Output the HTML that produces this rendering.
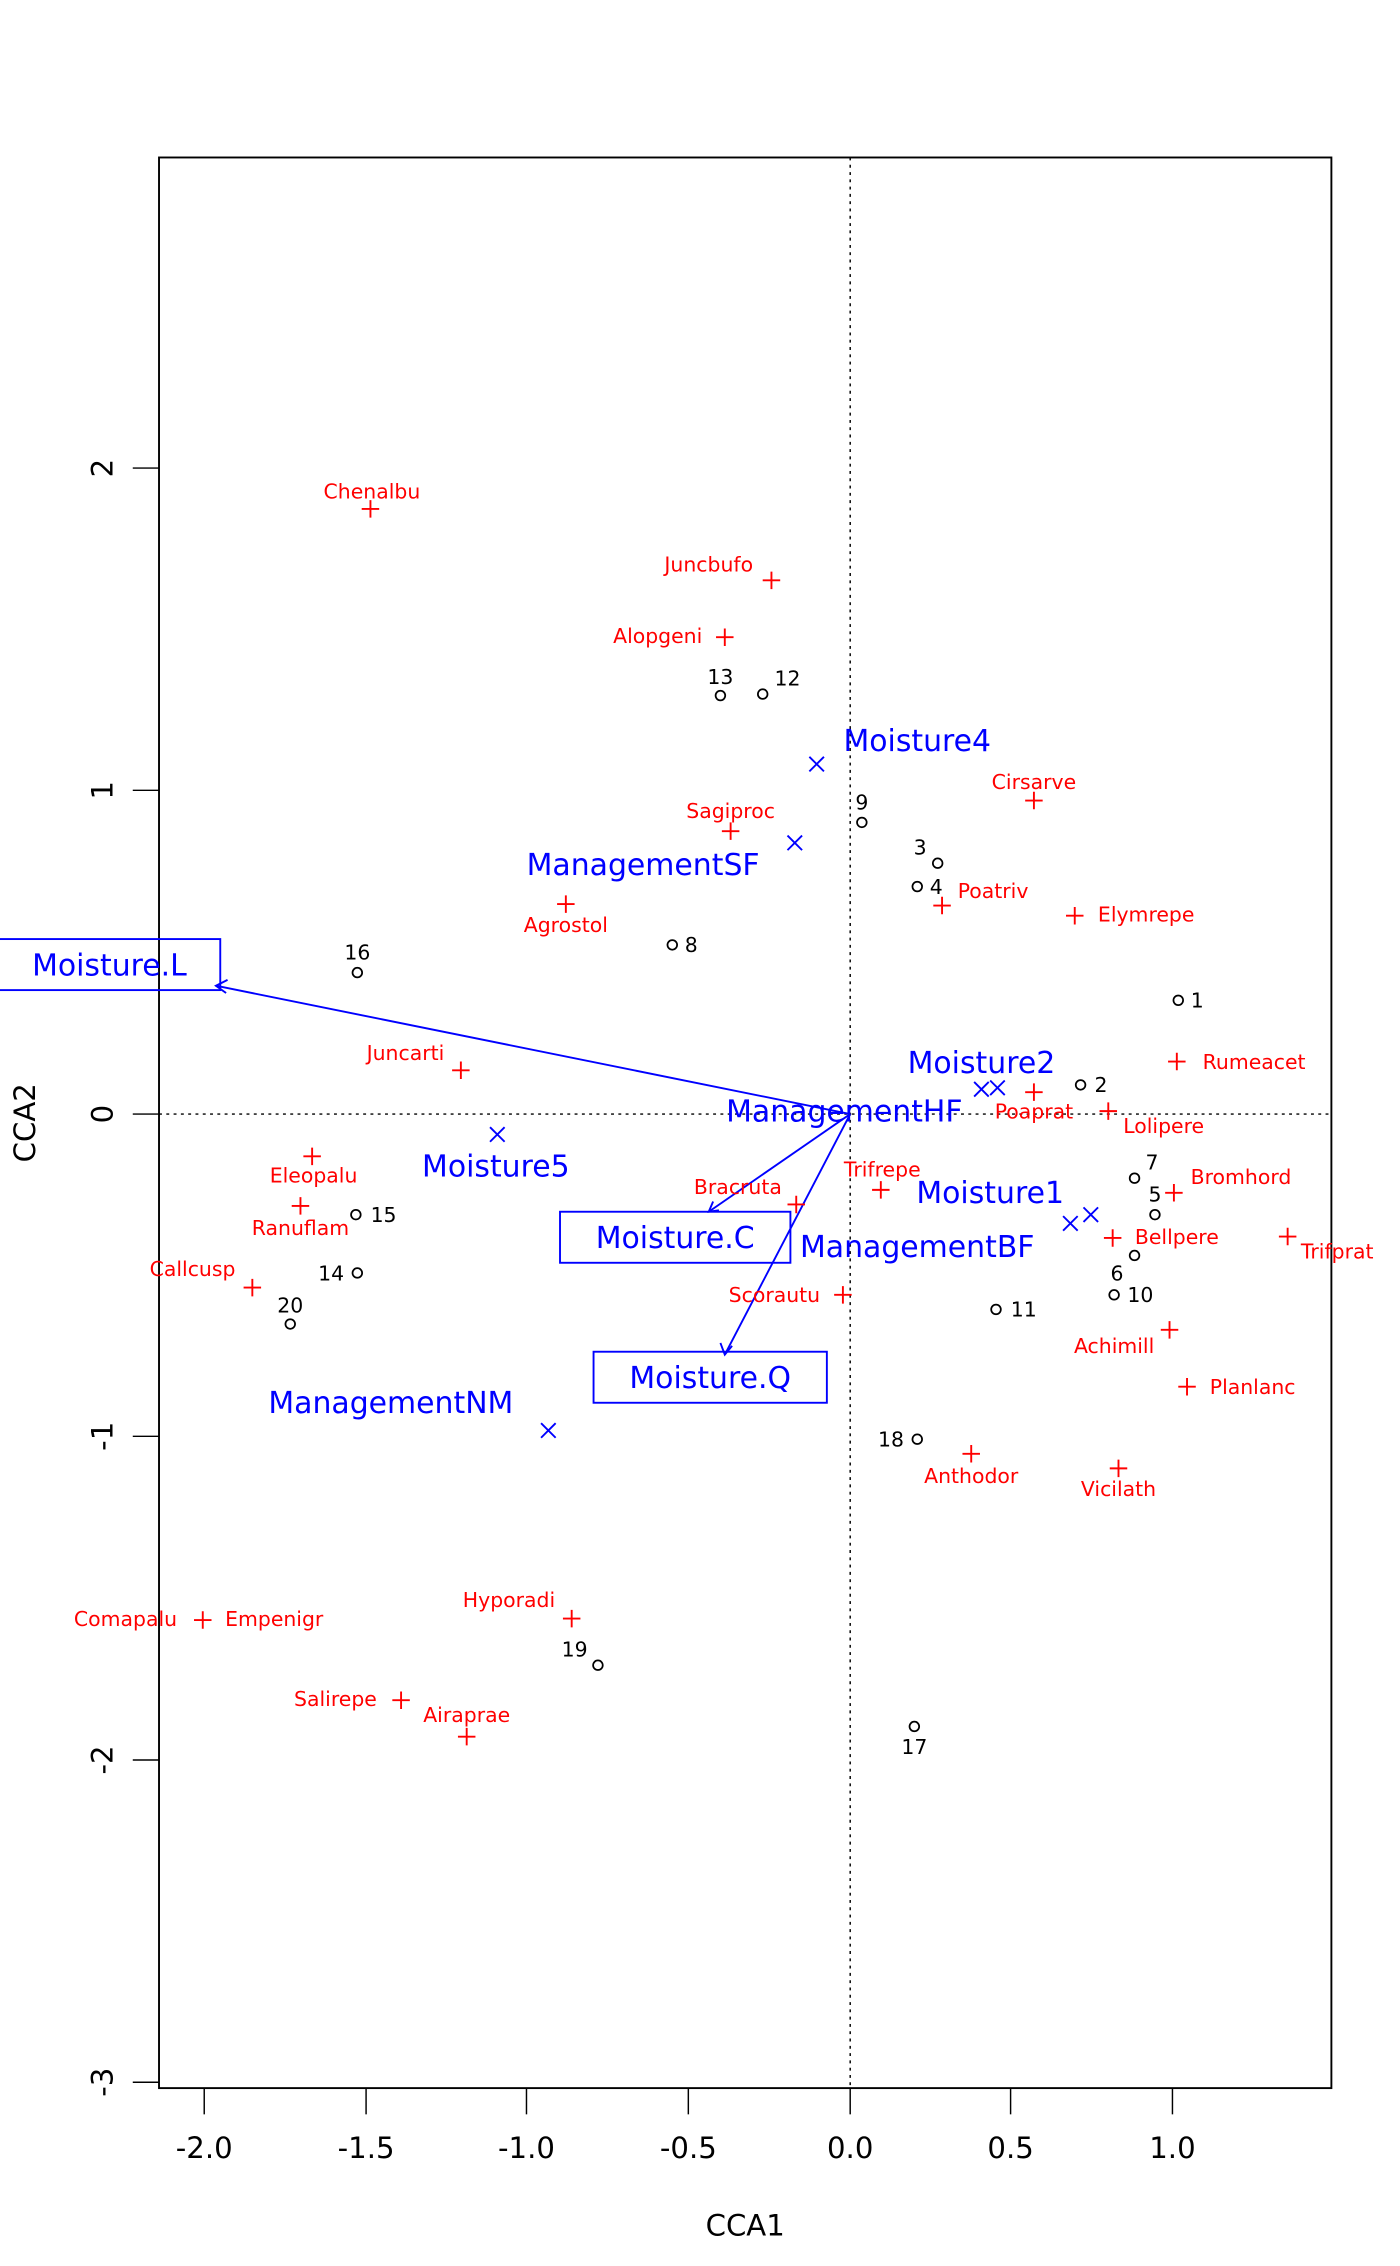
<!DOCTYPE html>
<html><head><meta charset="utf-8"><style>
html,body{margin:0;padding:0;background:#fff;}
svg{display:block;}
text{font-family:"DejaVu Sans","Liberation Sans",sans-serif;}
.r{fill:#f00;font-size:14px;text-anchor:middle;}
.k{fill:#000;font-size:14px;text-anchor:middle;}
.b{fill:#00f;font-size:20.5px;text-anchor:middle;}
.t{fill:#000;font-size:20px;text-anchor:middle;}
</style></head><body>
<svg width="1400" height="2266" viewBox="0 0 960 1554" xmlns="http://www.w3.org/2000/svg">
<rect width="960" height="1554" fill="#fff"/>
<!-- dotted axes -->
<line x1="109" y1="764" x2="913" y2="764" stroke="#000" stroke-width="1" stroke-dasharray="2,3"/>
<line x1="583" y1="108" x2="583" y2="1432" stroke="#000" stroke-width="1" stroke-dasharray="2,3"/>
<rect x="109" y="108" width="804" height="1324" fill="none" stroke="#000" stroke-width="1.3"/>
<!-- x ticks -->
<g stroke="#000" stroke-width="1">
<line x1="140" y1="1432" x2="140" y2="1450"/><line x1="251" y1="1432" x2="251" y2="1450"/>
<line x1="361" y1="1432" x2="361" y2="1450"/><line x1="472" y1="1432" x2="472" y2="1450"/>
<line x1="583" y1="1432" x2="583" y2="1450"/><line x1="693" y1="1432" x2="693" y2="1450"/>
<line x1="804" y1="1432" x2="804" y2="1450"/>
<line x1="91" y1="321" x2="109" y2="321"/><line x1="91" y1="542" x2="109" y2="542"/>
<line x1="91" y1="764" x2="109" y2="764"/><line x1="91" y1="985" x2="109" y2="985"/>
<line x1="91" y1="1207" x2="109" y2="1207"/><line x1="91" y1="1428" x2="109" y2="1428"/>
</g>
<g class="t">
<text x="140" y="1480">-2.0</text><text x="251" y="1480">-1.5</text><text x="361" y="1480">-1.0</text>
<text x="472" y="1480">-0.5</text><text x="583" y="1480">0.0</text><text x="693" y="1480">0.5</text>
<text x="804" y="1480">1.0</text>
<text x="511" y="1533">CCA1</text>
<text transform="translate(77,321) rotate(-90)">2</text>
<text transform="translate(77,542) rotate(-90)">1</text>
<text transform="translate(77,764) rotate(-90)">0</text>
<text transform="translate(77,985) rotate(-90)">-1</text>
<text transform="translate(77,1207) rotate(-90)">-2</text>
<text transform="translate(77,1428) rotate(-90)">-3</text>
<text transform="translate(24,770) rotate(-90)">CCA2</text>
</g>
<!-- arrows -->
<g stroke="#00f" stroke-width="1.3" fill="none">
<line x1="583" y1="764" x2="148" y2="676"/>
<polyline points="156,672 148,676 155,681"/>
<line x1="583" y1="764" x2="486" y2="831"/>
<polyline points="489,824 486,831 493,830"/>
<line x1="583" y1="764" x2="497" y2="929"/>
<polyline points="494,921 497,929 502,923"/>
<rect x="-5" y="644" width="156" height="35"/>
<rect x="384" y="831" width="158" height="35"/>
<rect x="407" y="927" width="160" height="35"/>
</g>
<g class="b">
<text x="75" y="669">Moisture.L</text>
<text x="463" y="856">Moisture.C</text>
<text x="487" y="952">Moisture.Q</text>
<text x="629" y="515">Moisture4</text>
<text x="441" y="600">ManagementSF</text>
<text x="340" y="807">Moisture5</text>
<text x="268" y="969">ManagementNM</text>
<text x="673" y="736">Moisture2</text>
<text x="579" y="769">ManagementHF</text>
<text x="679" y="825">Moisture1</text>
<text x="629" y="862">ManagementBF</text>
</g>
<!-- blue X -->
<g stroke="#00f" stroke-width="1.3">
<path d="M555,519l10,10M565,519l-10,10"/>
<path d="M540,573l10,10M550,573l-10,10"/>
<path d="M336,773l10,10M346,773l-10,10"/>
<path d="M371,976l10,10M381,976l-10,10"/>
<path d="M668,742l10,10M678,742l-10,10"/>
<path d="M679,741l10,10M689,741l-10,10"/>
<path d="M729,834l10,10M739,834l-10,10"/>
<path d="M743,828l10,10M753,828l-10,10"/>
</g>
<!-- red plus -->
<g stroke="#f00" stroke-width="1.3" fill="none" id="pl">
<path d="M248,349h12M254,343v12"/>
<path d="M523,398h12M529,392v12"/>
<path d="M491,437h12M497,431v12"/>
<path d="M495,570h12M501,564v12"/>
<path d="M703,549h12M709,543v12"/>
<path d="M382,620h12M388,614v12"/>
<path d="M640,621h12M646,615v12"/>
<path d="M731,628h12M737,622v12"/>
<path d="M801,728h12M807,722v12"/>
<path d="M310,734h12M316,728v12"/>
<path d="M703,749h12M709,743v12"/>
<path d="M754,762h12M760,756v12"/>
<path d="M208,793h12M214,787v12"/>
<path d="M799,818h12M805,812v12"/>
<path d="M598,816h12M604,810v12"/>
<path d="M540,826h12M546,820v12"/>
<path d="M200,827h12M206,821v12"/>
<path d="M757,849h12M763,843v12"/>
<path d="M877,848h12M883,842v12"/>
<path d="M167,883h12M173,877v12"/>
<path d="M572,888h12M578,882v12"/>
<path d="M796,912h12M802,906v12"/>
<path d="M808,951h12M814,945v12"/>
<path d="M660,997h12M666,991v12"/>
<path d="M761,1007h12M767,1001v12"/>
<path d="M386,1110h12M392,1104v12"/>
<path d="M133,1111h12M139,1105v12"/>
<path d="M269,1166h12M275,1160v12"/>
<path d="M314,1191h12M320,1185v12"/>
</g>
<g class="r">
<text x="255" y="342">Chenalbu</text>
<text x="486" y="392">Juncbufo</text>
<text x="451" y="441">Alopgeni</text>
<text x="501" y="561">Sagiproc</text>
<text x="709" y="541">Cirsarve</text>
<text x="388" y="639">Agrostol</text>
<text x="681" y="616">Poatriv</text>
<text x="786" y="632">Elymrepe</text>
<text x="860" y="733">Rumeacet</text>
<text x="278" y="727">Juncarti</text>
<text x="709" y="767">Poaprat</text>
<text x="798" y="777">Lolipere</text>
<text x="215" y="811">Eleopalu</text>
<text x="851" y="812">Bromhord</text>
<text x="605" y="807">Trifrepe</text>
<text x="506" y="819">Bracruta</text>
<text x="206" y="847">Ranuflam</text>
<text x="807" y="853">Bellpere</text>
<text x="917" y="863">Trifprat</text>
<text x="132" y="875">Callcusp</text>
<text x="531" y="893">Scorautu</text>
<text x="764" y="928">Achimill</text>
<text x="859" y="956">Planlanc</text>
<text x="666" y="1017">Anthodor</text>
<text x="767" y="1026">Vicilath</text>
<text x="349" y="1102">Hyporadi</text>
<text x="86" y="1115">Comapalu</text>
<text x="188" y="1115">Empenigr</text>
<text x="230" y="1170">Salirepe</text>
<text x="320" y="1181">Airaprae</text>
</g>
<!-- sites -->
<g stroke="#000" stroke-width="1.2" fill="none">
<circle cx="808" cy="686" r="3.3"/><circle cx="741" cy="744" r="3.3"/>
<circle cx="643" cy="592" r="3.3"/><circle cx="629" cy="608" r="3.3"/>
<circle cx="792" cy="833" r="3.3"/><circle cx="778" cy="861" r="3.3"/>
<circle cx="778" cy="808" r="3.3"/><circle cx="461" cy="648" r="3.3"/>
<circle cx="591" cy="564" r="3.3"/><circle cx="764" cy="888" r="3.3"/>
<circle cx="683" cy="898" r="3.3"/><circle cx="523" cy="476" r="3.3"/>
<circle cx="494" cy="477" r="3.3"/><circle cx="245" cy="873" r="3.3"/>
<circle cx="244" cy="833" r="3.3"/><circle cx="245" cy="667" r="3.3"/>
<circle cx="627" cy="1184" r="3.3"/><circle cx="629" cy="987" r="3.3"/>
<circle cx="410" cy="1142" r="3.3"/><circle cx="199" cy="908" r="3.3"/>
</g>
<g class="k">
<text x="821" y="691">1</text><text x="755" y="749">2</text>
<text x="631" y="586">3</text><text x="642" y="613">4</text>
<text x="792" y="824">5</text><text x="766" y="878">6</text>
<text x="790" y="802">7</text><text x="474" y="653">8</text>
<text x="591" y="555">9</text><text x="782" y="893">10</text>
<text x="702" y="903">11</text><text x="540" y="470">12</text>
<text x="494" y="469">13</text><text x="227" y="878">14</text>
<text x="263" y="838">15</text><text x="245" y="658">16</text>
<text x="627" y="1203">17</text><text x="611" y="992">18</text>
<text x="394" y="1136">19</text><text x="199" y="900">20</text>
</g>
</svg>
</body></html>
